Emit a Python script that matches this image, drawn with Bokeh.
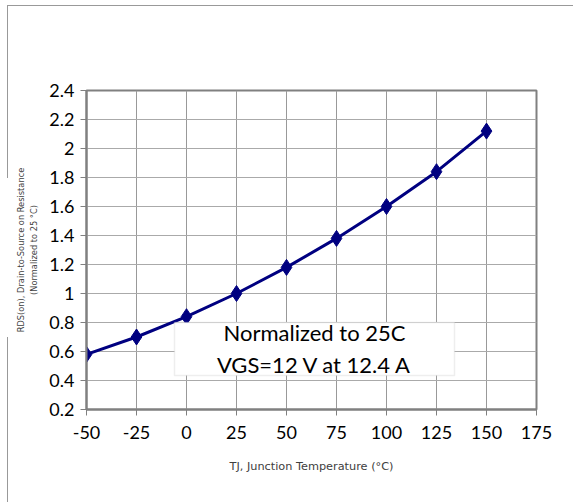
from bokeh.plotting import figure
from bokeh.models import Range1d, FixedTicker, Label, BoxAnnotation
from bokeh.embed import file_html
from bokeh.resources import INLINE

temperature = [-50, -25, 0, 25, 50, 75, 100, 125, 150]
rds_norm = [0.58, 0.70, 0.84, 1.00, 1.18, 1.38, 1.60, 1.84, 2.12]

x_ticks = [-50, -25, 0, 25, 50, 75, 100, 125, 150, 175]
y_ticks = [0.2, 0.4, 0.6, 0.8, 1.0, 1.2, 1.4, 1.6, 1.8, 2.0, 2.2, 2.4]
y_tick_labels = ["0.2", "0.4", "0.6", "0.8", "1", "1.2", "1.4", "1.6", "1.8", "2", "2.2", "2.4"]

note_line1 = "Normalized to 25C"
note_line2 = "VGS=12 V at 12.4 A"

p = figure(frame_width=450, frame_height=319, output_backend="svg", toolbar_location=None,
           x_range=Range1d(-50, 175), y_range=Range1d(0.2, 2.4),
           min_border_left=86, min_border_right=35, min_border_top=90, min_border_bottom=92)

p.background_fill_color = "white"
p.border_fill_color = "white"
p.outline_line_color = "#808080"
p.outline_line_width = 2

p.xaxis.ticker = FixedTicker(ticks=x_ticks)
p.yaxis.ticker = FixedTicker(ticks=y_ticks)
p.yaxis.major_label_overrides = {v: s for v, s in zip(y_ticks, y_tick_labels)}
p.xaxis.major_label_overrides = {v: str(v) for v in x_ticks}

for ax in (p.xaxis, p.yaxis):
    ax.axis_line_color = "#808080"
    ax.axis_line_width = 2
    ax.major_tick_line_color = "#808080"
    ax.major_tick_line_width = 1
    ax.major_tick_out = 6
    ax.major_tick_in = 0
    ax.minor_tick_line_color = None
    ax.major_label_text_font = "Lato"
    ax.major_label_text_font_size = "18px"
    ax.major_label_text_color = "black"
    ax.axis_label_text_font = "DejaVu Sans"
    ax.axis_label_text_font_style = "normal"
    ax.axis_label_text_color = "#404040"

p.xaxis.major_label_standoff = 10
p.yaxis.major_label_standoff = 6

p.xaxis.axis_label = "TJ, Junction Temperature (\u00b0C)"
p.xaxis.axis_label_text_font_size = "11.3px"
p.xaxis.axis_label_standoff = 18

p.yaxis.axis_label = "RDS(on), Drain-to-Source on Resistance\n(Normalized to 25 \u00b0C)"
p.yaxis.axis_label_text_font = "DejaVu Sans Condensed"
p.yaxis.axis_label_text_font_size = "9.2px"
p.yaxis.axis_label_standoff = 7

p.xgrid.grid_line_color = "#999999"
p.xgrid.grid_line_width = 1
p.ygrid.grid_line_color = "#aaaaaa"
p.ygrid.grid_line_width = 1

p.line(temperature, rds_norm, line_color="#000080", line_width=3)
p.scatter(temperature, rds_norm, marker="diamond", size=16, fill_color="#000080",
          line_color="#000080")

box = BoxAnnotation(left=-6, right=134, bottom=0.434, top=0.8,
                    fill_color="white", fill_alpha=1.0,
                    line_color="#c8c8c8", line_width=1.5, level="overlay")
p.add_layout(box)

for txt, yv in ((note_line1, 0.731), (note_line2, 0.51)):
    p.add_layout(Label(x=64, y=yv, text=txt, text_align="center", text_baseline="middle",
                       text_font="Lato", text_font_size="22px", text_color="black",
                       level="overlay"))

html = file_html(p, INLINE)
frame_css = (
    '<div style="position:fixed;left:7px;top:5px;width:600px;height:0;'
    'border-top:1px solid #999999;pointer-events:none;z-index:10"></div>'
    '<div style="position:fixed;left:7px;top:5px;width:0;height:173px;'
    'border-left:1px solid #999999;pointer-events:none;z-index:10"></div>'
    '<div style="position:fixed;left:7px;top:337px;width:0;height:200px;'
    'border-left:1px solid #999999;pointer-events:none;z-index:10"></div>'
)
html = html.replace("</body>", frame_css + "</body>")
open("out.html", "w").write(html)
